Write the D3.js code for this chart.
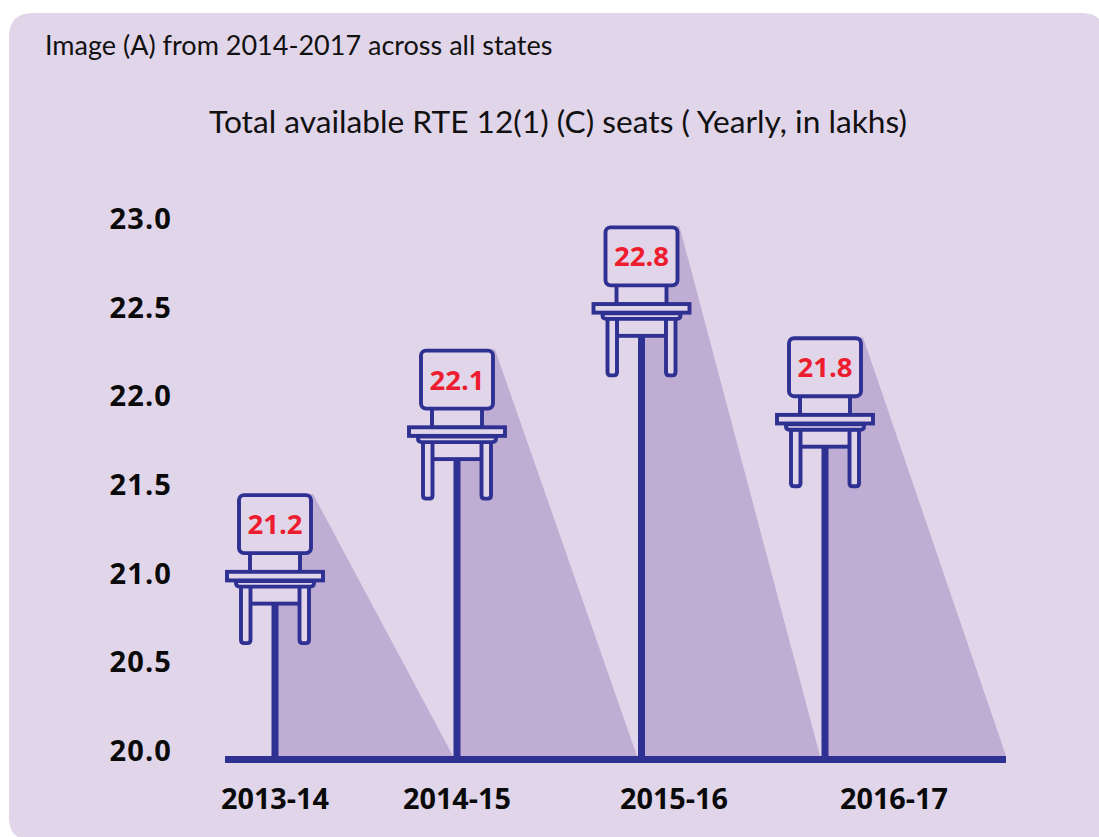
<!DOCTYPE html>
<html><head><meta charset="utf-8">
<script src="https://cdn.jsdelivr.net/npm/d3@7"></script>
<style>html,body{margin:0;padding:0;background:#fff}svg{display:block}</style></head>
<body><svg id="c" width="1099" height="837"></svg>
<script>
const years = ["2013-14","2014-15","2015-16","2016-17"];
const seats = [21.2,22.1,22.8,21.8];
// height at which each chair's seat sits, read against the axis
const seatLevel = [21.02,21.835,22.53,21.905];
const yTicks = [20,20.5,21,21.5,22,22.5,23];
const heading = "Image (A) from 2014-2017 across all states";
const title = "Total available RTE 12(1) (C) seats ( Yearly, in lakhs)";

const NAVY="#2e3192",BG="#e1d5ea",SH="#c0add4",RED="#ed1c2e";
const W=1099,H=837;
const svg=d3.select("#c");
const y=d3.scaleLinear().domain([20,23]).range([751,219]);
const x=d3.scaleOrdinal().domain(years).range([275,457,641.5,825]);
const xLabel=d3.scaleOrdinal().domain(years).range([275,457,674,894]);
const tip=d3.scaleOrdinal().domain(years).range([453,637,820,1006]);
const baseTop=756, baseH=7;
const rows=years.map((k,i)=>({k,seat:seats[i],lvl:seatLevel[i]}));

svg.append("path").attr("fill",BG)
 .attr("d",`M9,${H-19}V37Q9,13 33,13H${W-17}Q${W+5},13 ${W+5},35V${H+3}H31Q9,${H+3} 9,${H-19}Z`);

svg.append("text").attr("x",45).attr("y",55).attr("font-family","Lato").attr("font-size",27).attr("fill","#111").text(heading);
svg.append("text").attr("x",558).attr("y",133).attr("text-anchor","middle").attr("font-family","Lato").attr("font-size",31.7).attr("fill","#111").text(title);

svg.append("g").selectAll("text").data(yTicks).join("text")
 .attr("x",172).attr("y",d=>y(d)+10).attr("text-anchor","end")
 .attr("font-family","Open Sans").attr("font-weight",700).attr("font-size",29).attr("letter-spacing",1.1).attr("fill","#0a0a0a")
 .text(d=>d3.format(".1f")(d));

svg.append("g").selectAll("text").data(rows).join("text")
 .attr("x",d=>xLabel(d.k)).attr("y",809).attr("text-anchor","middle")
 .attr("font-family","Open Sans").attr("font-weight",700).attr("font-size",28.8).attr("fill","#0a0a0a")
 .text(d=>d.k);

// shadows
svg.append("g").selectAll("path").data(rows).join("path").attr("fill",SH)
 .attr("d",d=>{const c=x(d.k),s=y(d.lvl);return d3.line()([[c,baseTop],[c,s-76],[c+38,s-76],[tip(d.k),baseTop]])+"Z";});

// posts
svg.append("g").selectAll("rect").data(rows).join("rect").attr("fill",NAVY)
 .attr("x",d=>x(d.k)-3.5).attr("width",7).attr("y",d=>y(d.lvl)+33).attr("height",d=>baseTop-y(d.lvl)-33);
svg.append("rect").attr("x",225).attr("y",baseTop).attr("width",781).attr("height",baseH).attr("fill",NAVY);

// chairs
const sw=3.9;
const chair=svg.append("g").selectAll("g").data(rows).join("g")
 .attr("transform",d=>`translate(${x(d.k)},${y(d.lvl)})`)
 .attr("stroke",NAVY).attr("stroke-width",sw).attr("fill",BG);
// cross-brace panel and back uprights
chair.append("rect").attr("x",-25).attr("y",14).attr("width",50).attr("height",19.5);
chair.append("rect").attr("x",-25).attr("y",-18).attr("width",50).attr("height",20);
// legs
[-1,1].forEach(sg=>{
 chair.append("path").attr("d",()=>{const a=sg<0?-34:24.5,b=a+9.5;
   return `M${a},16V70Q${a},73 ${a+3},73H${b-3}Q${b},73 ${b},70V16Z`;});
});
// under-seat
chair.append("path").attr("d","M-39,11V13Q-39,16.5 -35.5,16.5H35.5Q39,16.5 39,13V11Z");
// seat
chair.append("rect").attr("x",-48).attr("y",1.7).attr("width",96).attr("height",8.6);
// back
chair.append("rect").attr("x",-36).attr("y",-75).attr("width",72).attr("height",58).attr("rx",5);
// value
svg.append("g").selectAll("text").data(rows).join("text")
 .attr("x",d=>x(d.k)).attr("y",d=>y(d.lvl)-36).attr("text-anchor","middle")
 .attr("font-family","Open Sans").attr("font-weight",700).attr("font-size",27.5).attr("fill",RED)
 .text(d=>d3.format(".1f")(d.seat));
</script></body></html>
